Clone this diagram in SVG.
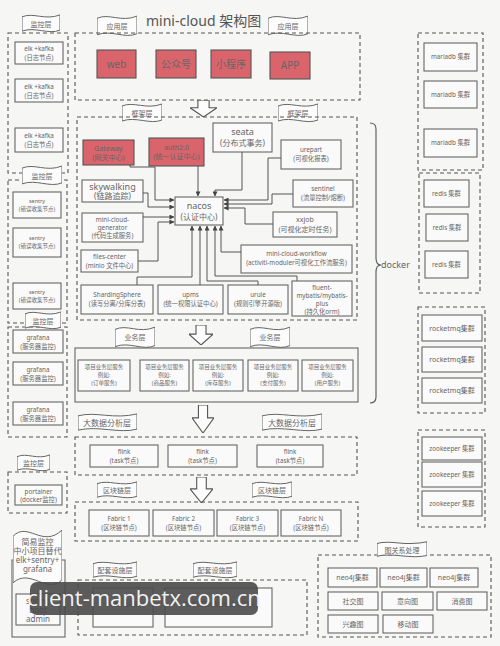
<svg xmlns="http://www.w3.org/2000/svg" xmlns:xlink="http://www.w3.org/1999/xlink" width="500" height="646" viewBox="0 0 500 646">
<style>
.bg{fill:#f6f6f4}
.dash{fill:none;stroke:#555;stroke-width:1.1;stroke-dasharray:4 3}
.box{fill:#fafafa;stroke:#666;stroke-width:1.1}
.solid{fill:none;stroke:#666;stroke-width:1.1}
.red{fill:#d9646c;stroke:#555;stroke-width:1.1}
.ban path{fill:#fcfcfc;stroke:#666;stroke-width:1;vector-effect:non-scaling-stroke}
.arr path{fill:#fcfcfc;stroke:#555;stroke-width:1.1;vector-effect:non-scaling-stroke}
.conn path{fill:none;stroke:#555;stroke-width:1;marker-end:url(#ah)}
text{font-family:"Noto Sans","Noto Sans CJK SC",sans-serif;fill:#666;text-anchor:middle}
.s5{font-size:5.5px}.s6{font-size:6.3px}.s7{font-size:7px}.s8{font-size:8px}.s9{font-size:9px}.s10{font-size:10px}
</style>
<defs>
<symbol id="ban" class="ban" viewBox="0 0 40 20" preserveAspectRatio="none"><path d="M0,3 C12,-2 24,7 40,1 L40,17 C28,22 14,13 0,18 Z"/></symbol>
<symbol id="arrow" class="arr" viewBox="0 0 24 24" preserveAspectRatio="none"><path d="M7,0 H17 V11 H24 L12,24 L0,11 H7 Z"/></symbol>
<marker id="ah" viewBox="0 0 6 6" refX="5.5" refY="3" markerWidth="5" markerHeight="5" orient="auto"><path d="M0,0 L6,3 L0,6 Z" fill="#444"/></marker>
</defs>
<rect class="bg" x="0" y="0" width="500" height="646"/>

<text x="146" y="26" style="font-size:14px;text-anchor:start;fill:#555">mini-cloud 架构图</text>

<!-- banners -->
<g id="banners">
<use href="#ban" x="97" y="15" width="40" height="22"/><text class="s7" x="117" y="29">应用层</text>
<use href="#ban" x="268" y="15" width="40" height="22"/><text class="s7" x="288" y="29">应用层</text>
<use href="#ban" x="122" y="103" width="40" height="20"/><text class="s7" x="142" y="116">框架层</text>
<use href="#ban" x="278" y="103" width="40" height="20"/><text class="s7" x="298" y="116">框架层</text>
<use href="#ban" x="115" y="326" width="40" height="23"/><text class="s7" x="135" y="340">业务层</text>
<use href="#ban" x="250" y="326" width="40" height="23"/><text class="s7" x="270" y="340">业务层</text>
<use href="#ban" x="78" y="413" width="59" height="19"/><text class="s8" x="107" y="426">大数据分析层</text>
<use href="#ban" x="262" y="413" width="60" height="19"/><text class="s8" x="292" y="426">大数据分析层</text>
<use href="#ban" x="97" y="481" width="40" height="18"/><text class="s7" x="117" y="493">区块链层</text>
<use href="#ban" x="252" y="481" width="40" height="18"/><text class="s7" x="272" y="493">区块链层</text>
<use href="#ban" x="93" y="561" width="44" height="18"/><text class="s7" x="115" y="573">配套设施层</text>
<use href="#ban" x="193" y="561" width="44" height="18"/><text class="s7" x="215" y="573">配套设施层</text>
<use href="#ban" x="22" y="14" width="38" height="19"/><text class="s7" x="41" y="27">监控层</text>
</g>

<!-- hollow arrows -->
<g id="flow-arrows">
<use href="#arrow" x="190" y="100" width="27" height="17"/>
<use href="#arrow" x="189" y="325" width="24" height="20"/>
<use href="#arrow" x="192" y="405" width="22" height="28"/>
<use href="#arrow" x="190" y="477" width="23" height="26"/>
</g>

<!-- app layer -->
<g id="app-layer">
<rect class="dash" x="75" y="33" width="285" height="67"/>
<g id="web"><rect class="red" x="97" y="50" width="39" height="28"/><text class="s10" x="116.5" y="68">web</text></g>
<g id="gzh"><rect class="red" x="156" y="50" width="40" height="28"/><text class="s10" x="176" y="68">公众号</text></g>
<g id="xcx"><rect class="red" x="211" y="50" width="40" height="28"/><text class="s10" x="231" y="68">小程序</text></g>
<g id="app"><rect class="red" x="270" y="52" width="40" height="27"/><text class="s10" x="290" y="69">APP</text></g>
</g>

<!-- framework layer -->
<g id="framework-layer">
<rect class="dash" x="77" y="117" width="280" height="203"/>
<g id="gateway"><rect class="red" x="83" y="140" width="51" height="25"/><text class="s7" x="108.5" y="151">Gateway</text><text class="s7" x="108.5" y="160">(网关中心)</text></g>
<g id="auth"><rect class="red" x="149" y="138" width="55" height="28"/><text class="s7" x="176.5" y="150">auth2.0</text><text class="s7" x="176.5" y="159">(统一认证中心)</text></g>
<g id="seata"><rect class="box" x="213" y="123" width="59" height="29"/><text class="s9" x="242.5" y="135">seata</text><text class="s8" x="242.5" y="146">(分布式事务)</text></g>
<g id="urepart"><rect class="box" x="281" y="140" width="60" height="29"/><text class="s6" x="311" y="152">urepart</text><text class="s6" x="311" y="161">(可视化报表)</text></g>
<g id="skywalking"><rect class="box" x="82" y="180" width="61" height="22"/><text class="s9" x="112.5" y="190">skywalking</text><text class="s8" x="112.5" y="199">(链路追踪)</text></g>
<g id="sentinel"><rect class="box" x="293" y="180" width="60" height="27"/><text class="s6" x="323" y="191">sentinel</text><text class="s6" x="323" y="200">(流量控制/熔断)</text></g>
<g id="nacos"><rect class="box" x="175" y="197" width="48" height="28"/><text class="s9" x="199" y="209">nacos</text><text class="s8" x="199" y="220">(认证中心)</text></g>
<g id="generator"><rect class="box" x="82" y="213" width="61" height="29"/><text class="s6" x="112.5" y="222">mini-cloud-</text><text class="s6" x="112.5" y="230">generator</text><text class="s6" x="112.5" y="238">(代码生成服务)</text></g>
<g id="xxjob"><rect class="box" x="273" y="212" width="64" height="25"/><text class="s7" x="305" y="222">xxjob</text><text class="s7" x="305" y="232">(可视化定时任务)</text></g>
<g id="files-center"><rect class="box" x="81" y="250" width="57" height="22"/><text class="s6" x="109.5" y="259">files-center</text><text class="s6" x="109.5" y="268">(minio 文件中心)</text></g>
<g id="workflow"><rect class="box" x="241" y="245" width="111" height="28"/><text class="s6" x="296.5" y="256">mini-cloud-workflow</text><text class="s6" x="296.5" y="265">(activiti-moduler可视化工作流服务)</text></g>
<g id="sharding"><rect class="box" x="81" y="285" width="72" height="29"/><text class="s6" x="117" y="297">ShardingSphere</text><text class="s6" x="117" y="306">(读写分离/分库分表)</text></g>
<g id="upms"><rect class="box" x="158" y="285" width="65" height="29"/><text class="s6" x="190.5" y="297">upms</text><text class="s6" x="190.5" y="306">(统一权限认证中心)</text></g>
<g id="urule"><rect class="box" x="228" y="285" width="60" height="29"/><text class="s6" x="258" y="297">urule</text><text class="s6" x="258" y="306">(规则引擎开源版)</text></g>
<g id="fluent"><rect class="box" x="292" y="281" width="60" height="35"/><text class="s6" x="322" y="290">fluent-</text><text class="s6" x="322" y="298">mybatis/mybatis-</text><text class="s6" x="322" y="306">plus</text><text class="s6" x="322" y="314">(持久化orm)</text></g>
</g>

<g id="connectors" class="conn">
<path d="M130,165 V167 H155 V200 H174"/>
<path d="M143,193 H148 V207 H174"/>
<path d="M143,217 H174"/>
<path d="M138,261 H158 V222 H174"/>
<path d="M198,166 V196"/>
<path d="M242,152 V190 H215 V196"/>
<path d="M281,158 H268 V200 H224"/>
<path d="M293,194 H272 V204 H224"/>
<path d="M273,224 H245 V208 H224"/>
<path d="M137,285 V277 H192 V226"/>
<path d="M200,285 V226"/>
<path d="M258,285 V281 H207 V226"/>
<path d="M297,281 V276 H215 V226"/>
<path d="M241,252 H221 V226"/>
</g>

<!-- business layer -->
<g id="business-layer">
<rect class="solid" x="75" y="348" width="283" height="54"/>
<g id="biz1"><rect class="box" x="78" y="360" width="52" height="31"/><text class="s5" x="104" y="369">项目业务层服务</text><text class="s5" x="104" y="377">例如:</text><text class="s5" x="104" y="385">(订单服务)</text></g>
<g id="biz2"><rect class="box" x="140" y="360" width="49" height="31"/><text class="s5" x="164.5" y="369">项目业务层服务</text><text class="s5" x="164.5" y="377">例如:</text><text class="s5" x="164.5" y="385">(商品服务)</text></g>
<g id="biz3"><rect class="box" x="193" y="360" width="50" height="31"/><text class="s5" x="218" y="369">项目业务层服务</text><text class="s5" x="218" y="377">例如:</text><text class="s5" x="218" y="385">(库存服务)</text></g>
<g id="biz4"><rect class="box" x="248" y="360" width="50" height="31"/><text class="s5" x="273" y="369">项目业务层服务</text><text class="s5" x="273" y="377">例如:</text><text class="s5" x="273" y="385">(支付服务)</text></g>
<g id="biz5"><rect class="box" x="302" y="360" width="51" height="31"/><text class="s5" x="327.5" y="369">项目业务层服务</text><text class="s5" x="327.5" y="377">例如:</text><text class="s5" x="327.5" y="385">(用户服务)</text></g>
</g>

<!-- big data -->
<g id="bigdata-layer">
<rect class="dash" x="75" y="437" width="282" height="38"/>
<g id="flink1"><rect class="box" x="90" y="445" width="68" height="22"/><text class="s6" x="124" y="454">flink</text><text class="s6" x="124" y="463">(task节点)</text></g>
<g id="flink2"><rect class="box" x="168" y="445" width="69" height="22"/><text class="s6" x="202.5" y="454">flink</text><text class="s6" x="202.5" y="463">(task节点)</text></g>
<g id="flink3"><rect class="box" x="257" y="445" width="66" height="22"/><text class="s6" x="290" y="454">flink</text><text class="s6" x="290" y="463">(task节点)</text></g>
</g>

<!-- blockchain -->
<g id="blockchain-layer">
<rect class="dash" x="75" y="502" width="283" height="39"/>
<g id="fabric1"><rect class="box" x="89" y="510" width="60" height="26"/><text class="s6" x="119" y="521">Fabric 1</text><text class="s6" x="119" y="530">(区块链节点)</text></g>
<g id="fabric2"><rect class="box" x="153" y="510" width="61" height="26"/><text class="s6" x="183.5" y="521">Fabric 2</text><text class="s6" x="183.5" y="530">(区块链节点)</text></g>
<g id="fabric3"><rect class="box" x="217" y="510" width="61" height="26"/><text class="s6" x="247.5" y="521">Fabric 3</text><text class="s6" x="247.5" y="530">(区块链节点)</text></g>
<g id="fabricN"><rect class="box" x="281" y="510" width="60" height="26"/><text class="s6" x="311" y="521">Fabric N</text><text class="s6" x="311" y="530">(区块链节点)</text></g>
</g>

<!-- supporting facilities -->
<g id="support-layer">
<rect class="dash" x="78" y="580" width="229" height="55"/>
<g id="doc"><rect class="box" x="93" y="588" width="60" height="39"/><text class="s5" x="123" y="606">(在线文档系统)</text></g>
<g id="cicd"><rect class="box" x="165" y="588" width="107" height="39"/><text class="s5" x="218.5" y="606">(版本管理以及持续集成部署)</text></g>
</g>

<!-- graph -->
<g id="graph-layer">
<rect class="dash" x="318" y="555" width="173" height="82"/>
<use href="#ban" x="377" y="541" width="50" height="17"/><text class="s7" x="402" y="553">图关系处理</text>
<g id="neo1"><rect class="box" x="328" y="568" width="49" height="19"/><text class="s7" x="352.5" y="580">neo4j集群</text></g>
<g id="neo2"><rect class="box" x="380" y="568" width="47" height="19"/><text class="s7" x="403.5" y="580">neo4j集群</text></g>
<g id="neo3"><rect class="box" x="430" y="568" width="48" height="19"/><text class="s7" x="454" y="580">neo4j集群</text></g>
<g id="social"><rect class="box" x="328" y="592" width="50" height="18"/><text class="s7" x="353" y="604">社交图</text></g>
<g id="intent"><rect class="box" x="382" y="592" width="51" height="18"/><text class="s7" x="407.5" y="604">意向图</text></g>
<g id="consume"><rect class="box" x="437" y="592" width="50" height="18"/><text class="s7" x="462" y="604">消费图</text></g>
<g id="interest"><rect class="box" x="328" y="615" width="50" height="18"/><text class="s7" x="353" y="627">兴趣图</text></g>
<g id="mobile"><rect class="box" x="383" y="615" width="50" height="18"/><text class="s7" x="408" y="627">移动图</text></g>
</g>

<!-- left monitoring -->
<g id="elk-group">
<rect class="dash" x="8" y="33" width="60" height="140"/>
<g id="elk1"><rect class="box" x="15" y="42" width="48" height="22"/><text class="s6" x="39" y="51">elk +kafka</text><text class="s6" x="39" y="60">(日志节点)</text></g>
<g id="elk2"><rect class="box" x="15" y="79" width="48" height="23"/><text class="s6" x="39" y="89">elk +kafka</text><text class="s6" x="39" y="98">(日志节点)</text></g>
<g id="elk3"><rect class="box" x="15" y="128" width="48" height="24"/><text class="s6" x="39" y="138">elk +kafka</text><text class="s6" x="39" y="147">(日志节点)</text></g>
</g>
<g id="sentry-group">
<rect class="dash" x="8" y="180" width="59" height="143"/>
<use href="#ban" x="22" y="165" width="40" height="21"/><text class="s7" x="42" y="179">监控层</text>
<g id="sentry1"><rect class="box" x="13" y="192" width="48" height="26"/><text class="s5" x="37" y="203">sentry</text><text class="s5" x="37" y="211">(错误收集节点)</text></g>
<g id="sentry2"><rect class="box" x="13" y="228" width="48" height="29"/><text class="s5" x="37" y="240">sentry</text><text class="s5" x="37" y="248">(错误收集节点)</text></g>
<g id="sentry3"><rect class="box" x="13" y="283" width="48" height="26"/><text class="s5" x="37" y="294">sentry</text><text class="s5" x="37" y="302">(错误收集节点)</text></g>
</g>
<g id="grafana-group">
<rect class="dash" x="8" y="327" width="59" height="110"/>
<use href="#ban" x="25" y="311" width="36" height="19"/><text class="s7" x="43" y="324">监控层</text>
<g id="grafana1"><rect class="box" x="13" y="330" width="50" height="23"/><text class="s6" x="38" y="340">grafana</text><text class="s6" x="38" y="349">(服务器监控)</text></g>
<g id="grafana2"><rect class="box" x="13" y="362" width="50" height="23"/><text class="s6" x="38" y="372">grafana</text><text class="s6" x="38" y="381">(服务器监控)</text></g>
<g id="grafana3"><rect class="box" x="13" y="402" width="50" height="23"/><text class="s6" x="38" y="412">grafana</text><text class="s6" x="38" y="421">(服务器监控)</text></g>
</g>
<g id="portainer-group">
<rect class="dash" x="8" y="472" width="59" height="41"/>
<use href="#ban" x="17" y="454" width="33" height="18"/><text class="s7" x="33.5" y="466">监控层</text>
<g id="portainer"><rect class="box" x="15" y="485" width="47" height="20"/><text class="s6" x="38.5" y="494">portainer</text><text class="s6" x="38.5" y="502">(docker监控)</text></g>
</g>
<g id="simple-monitor">
<rect class="solid" x="12" y="560" width="53" height="77"/>
<use href="#ban" x="13" y="527" width="49" height="62"/>
<text class="s8" x="37.5" y="545">简易监控</text><text class="s8" x="37.5" y="554">中小项目替代</text><text class="s8" x="37.5" y="563">elk+sentry+</text><text class="s8" x="37.5" y="572">grafana</text>
<g id="sba"><rect class="box" x="16" y="594" width="44" height="31"/><text class="s8" x="38" y="604">spring</text><text class="s8" x="38" y="613">boot</text><text class="s8" x="38" y="622">admin</text></g>
</g>

<!-- docker brace -->
<g id="docker">
<path d="M370,123 Q376,123 376,129 V258 Q376,265 381,265 Q376,265 376,272 V397 Q376,403 370,403" fill="none" stroke="#555" stroke-width="1.1"/>
<text class="s9" x="381" y="268" style="text-anchor:start">docker</text>
</g>

<!-- right column -->
<g id="mariadb-group">
<rect class="dash" x="418" y="33" width="65" height="137"/>
<g id="mariadb1"><rect class="box" x="424" y="43" width="53" height="28"/><text class="s6" x="450.5" y="59">mariadb 集群</text></g>
<g id="mariadb2"><rect class="box" x="424" y="81" width="53" height="27"/><text class="s6" x="450.5" y="97">mariadb 集群</text></g>
<g id="mariadb3"><rect class="box" x="424" y="129" width="53" height="28"/><text class="s6" x="450.5" y="145">mariadb 集群</text></g>
</g>
<g id="redis-group">
<rect class="dash" x="419" y="173" width="61" height="120"/>
<g id="redis1"><rect class="box" x="424" y="180" width="45" height="27"/><text class="s6" x="446.5" y="196">redis 集群</text></g>
<g id="redis2"><rect class="box" x="426" y="214" width="42" height="27"/><text class="s6" x="447" y="230">redis 集群</text></g>
<g id="redis3"><rect class="box" x="425" y="251" width="43" height="27"/><text class="s6" x="446.5" y="267">redis 集群</text></g>
</g>
<g id="rocketmq-group">
<rect class="dash" x="418" y="307" width="67" height="106"/>
<g id="mq1"><rect class="box" x="422" y="315" width="60" height="26"/><text class="s7" x="452" y="331">rocketmq集群</text></g>
<g id="mq2"><rect class="box" x="422" y="347" width="60" height="25"/><text class="s7" x="452" y="362">rocketmq集群</text></g>
<g id="mq3"><rect class="box" x="422" y="378" width="60" height="25"/><text class="s7" x="452" y="393">rocketmq集群</text></g>
</g>
<g id="zookeeper-group">
<rect class="dash" x="418" y="430" width="67" height="97"/>
<g id="zk1"><rect class="box" x="422" y="437" width="60" height="23"/><text class="s6" x="452" y="451">zookeeper 集群</text></g>
<g id="zk2"><rect class="box" x="422" y="462" width="60" height="25"/><text class="s6" x="452" y="477">zookeeper 集群</text></g>
<g id="zk3"><rect class="box" x="422" y="491" width="60" height="25"/><text class="s6" x="452" y="506">zookeeper 集群</text></g>
</g>

<!-- watermark overlay -->
<g id="watermark">
<rect x="30" y="582" width="228" height="33" rx="7" fill="#4a4a4a" fill-opacity="0.9"/>
<text x="144" y="606" style="font-size:22px;fill:#f2f2f2;font-family:'Open Sans','Noto Sans',sans-serif">client-manbetx.com.cn</text>
</g>
</svg>
